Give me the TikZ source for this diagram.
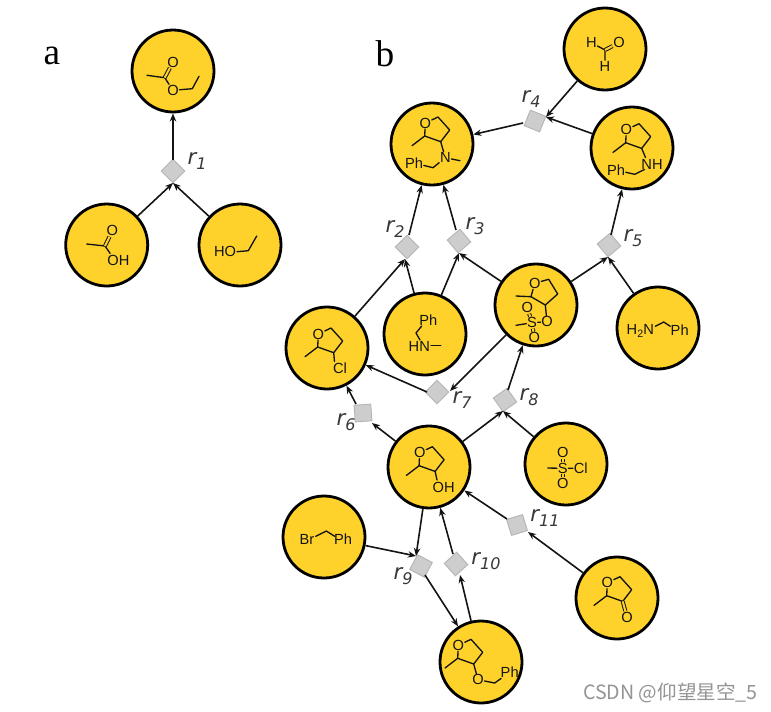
\documentclass[tikz,border=0pt]{standalone}
\usepackage{fontspec}
\setmainfont{Liberation Sans}
\newfontfamily\serifl{Liberation Serif}
\newfontfamily\lblfont{DejaVu Sans}
\newfontfamily\cjkf{Noto Sans CJK SC}
\usetikzlibrary{arrows.meta}
\definecolor{molfill}{HTML}{FFD22B}
\definecolor{inkc}{HTML}{141414}
\definecolor{rxfill}{HTML}{CDCDCD}
\definecolor{rxline}{HTML}{B5B5B5}
\tikzset{
  mol/.style={circle,draw=black,fill=molfill,line width=2.1pt,minimum size=61.5pt,inner sep=0pt},
  rx/.style={rectangle,draw=rxline,fill=rxfill,line width=.7pt,minimum size=12.5pt,inner sep=0pt},
  linkarrow/.style={draw=inkc,line width=1.2pt,-{Stealth[length=6pt,width=4.8pt]}},
  bond/.style={draw=inkc,line width=1pt,line cap=round,line join=round},
  dbl/.style={draw=inkc,line width=.75pt,double=molfill,double distance=1.5pt},
  atom/.style={font=\fontsize{11}{11}\selectfont,text=inkc,inner sep=.4pt},
  rlab/.style={font=\lblfont\fontsize{16}{16}\selectfont\itshape,text=black!78,inner sep=0pt},
  panel/.style={font=\serifl\fontsize{28}{28}\selectfont,text=black,inner sep=0pt},
  wmark/.style={font=\cjkf\fontsize{14.7}{14.7}\selectfont,text=black!42,inner sep=0pt,anchor=west}
}
\newcommand{\rlabel}[1]{r{\fontsize{12}{12}\selectfont\raisebox{-3.5pt}{#1}}}
% tetrahydrofuran ring with a methyl, given by the position of its O
\newcommand{\thfring}[3]{%
  \begin{scope}[shift={(#2,#3)}]
    \node[atom] (#1O) at (0,0) {O};
    \draw[bond] (#1O) -- (12.7,-6) -- (24.4,7) -- (15.4,18.7) -- (-0.6,13) -- (#1O);
    \draw[bond] (-0.6,13) -- (-13.3,22.7);
  \end{scope}}
\begin{document}
\begin{tikzpicture}[x=0.75pt,y=-0.75pt]
\path[use as bounding box,fill=white] (0,0) rectangle (771,711);

% molecule nodes
\node[mol] (ester) at (173,71) {};
\node[mol] (acid) at (106.7,245) {};
\node[mol] (etoh) at (240,245) {};
\node[mol] (form) at (605,49) {};
\node[mol] (pone) at (432,144) {};
\node[mol] (ptwo) at (632,148) {};
\node[mol] (chl) at (327,348) {};
\node[mol] (hn) at (425,334) {};
\node[mol] (mes) at (536,305) {};
\node[mol] (amine) at (658,328) {};
\node[mol] (alc) at (429,467) {};
\node[mol] (mscl) at (566,464) {};
\node[mol] (bnbr) at (324,537) {};
\node[mol] (ket) at (617,598) {};
\node[mol] (obn) at (481,662) {};

% reaction nodes
\node[rx,rotate=45] (r1) at (173,171) {};
\node[rx,rotate=45] (r2) at (407,247) {};
\node[rx,rotate=40] (r3) at (459,241) {};
\node[rx,rotate=-22] (r4) at (535,121) {};
\node[rx,rotate=40] (r5) at (609,245) {};
\node[rx,rotate=4] (r6) at (363,413) {};
\node[rx,rotate=45] (r7) at (437,392) {};
\node[rx,rotate=35] (r8) at (505,400) {};
\node[rx,rotate=-28] (r9) at (421,566) {};
\node[rx,rotate=42] (r10) at (456,564) {};
\node[rx,rotate=17] (r11) at (517,525) {};

% ports
\coordinate (i1) at (173,183); \coordinate (o1) at (173,160);
\coordinate (i2) at (405,259); \coordinate (o2) at (409,235);
\coordinate (i3) at (459,253); \coordinate (o3) at (456,230);
\coordinate (i4) at (546,117); \coordinate (o4) at (523,123);
\coordinate (i5) at (608,257); \coordinate (o5) at (611,235);
\coordinate (i6) at (372,423); \coordinate (o6) at (356,404);
\coordinate (i7) at (450,391); \coordinate (o7) at (427,392);
\coordinate (i8) at (503,411); \coordinate (o8) at (508,390);
\coordinate (i9) at (416,556); \coordinate (o9) at (425,575);
\coordinate (i10) at (460,575); \coordinate (o10) at (453,554);
\coordinate (i11) at (528,532); \coordinate (o11) at (507,519);

% connectors
\draw[linkarrow] (acid) -- (i1);
\draw[linkarrow] (etoh) -- (i1);
\draw[linkarrow] (o1) -- (ester);
\draw[linkarrow] (chl) -- (i2);
\draw[linkarrow] (hn) -- (i2);
\draw[linkarrow] (o2) -- (pone);
\draw[linkarrow] (hn) -- (i3);
\draw[linkarrow] (mes) -- (i3);
\draw[linkarrow] (o3) -- (pone);
\draw[linkarrow] (form) -- (i4);
\draw[linkarrow] (ptwo) -- (i4);
\draw[linkarrow] (o4) -- (pone);
\draw[linkarrow] (mes) -- (i5);
\draw[linkarrow] (amine) -- (i5);
\draw[linkarrow] (o5) -- (ptwo);
\draw[linkarrow] (alc) -- (i6);
\draw[linkarrow] (o6) -- (chl);
\draw[linkarrow] (mes) -- (i7);
\draw[linkarrow] (o7) -- (chl);
\draw[linkarrow] (alc) -- (i8);
\draw[linkarrow] (mscl) -- (i8);
\draw[linkarrow] (o8) -- (mes);
\draw[linkarrow] (alc) -- (i9);
\draw[linkarrow] (bnbr) -- (i9);
\draw[linkarrow] (o9) -- (obn);
\draw[linkarrow] (obn) -- (i10);
\draw[linkarrow] (o10) -- (alc);
\draw[linkarrow] (ket) -- (i11);
\draw[linkarrow] (o11) -- (alc);

% ethyl acetate
\begin{scope}[shift={(ester)}]
  \node[atom] (a1) at (0,-9) {O};
  \node[atom] (a2) at (0,19.3) {O};
  \draw[bond] (-26,4.3) -- (-8.3,6.7) -- (a2);
  \draw[dbl] (-8.3,6.7) -- (a1);
  \draw[bond] (a2) -- (19.3,17.7) -- (26,5.3);
\end{scope}
% acetic acid
\begin{scope}[shift={(acid)}]
  \node[atom] (a3) at (5.7,-14.3) {O};
  \node[atom] (a4) at (11.7,15) {OH};
  \draw[bond] (-20,-1) -- (-1.7,1) -- (3.5,8.5);
  \draw[dbl] (-1.7,1) -- (a3);
\end{scope}
% ethanol
\begin{scope}[shift={(etoh)}]
  \node[atom] (a5) at (-15,6.7) {HO};
  \draw[bond] (-3,6.7) -- (8.3,5.7) -- (16.7,-9);
\end{scope}
% formaldehyde
\begin{scope}[shift={(form)}]
  \node[atom] (a6) at (-13.7,-6.3) {H};
  \node[atom] (a7) at (14,-6.3) {O};
  \node[atom] (a8) at (0,17) {H};
  \draw[bond] (a6) -- (0,1) -- (a8);
  \draw[dbl] (0,1) -- (a7);
\end{scope}
% tertiary amine product
\begin{scope}[shift={(pone)}]
  \thfring{b}{-6.7}{-21}
  \node[atom] (a9) at (13.3,13.7) {N};
  \node[atom] (a10) at (-18,19) {Ph};
  \draw[bond] (8.7,-2.3) -- (a9) -- (28,16.7);
  \draw[bond] (a9) -- (1,23.7) -- (a10);
\end{scope}
% secondary amine
\begin{scope}[shift={(ptwo)}]
  \thfring{c}{-5.7}{-18.3}
  \node[atom] (a11) at (20,16.5) {NH};
  \node[atom] (a12) at (-16,22) {Ph};
  \draw[bond] (9.7,0.4) -- (13.5,9.5);
  \draw[bond] (12.5,21.5) -- (2.7,26.3) -- (a12);
\end{scope}
% chloride
\begin{scope}[shift={(chl)}]
  \thfring{d}{-8.7}{-14}
  \node[atom] (a13) at (13,20.7) {Cl};
  \draw[bond] (6.7,4.7) -- (7.5,13.5);
\end{scope}
% N-methylbenzylamine
\begin{scope}[shift={(hn)}]
  \node[atom] (a14) at (3.3,-14.3) {Ph};
  \node[atom] (a15) at (-5.7,12.3) {HN};
  \draw[bond] (-3.3,-8) -- (-9,-1) -- (-5,6);
  \draw[bond] (6,11.3) -- (15.7,11.3);
\end{scope}
% mesylate
\begin{scope}[shift={(mes)}]
  \node[atom] (a16) at (-1.3,-21.7) {O};
  \node[atom] (a17) at (11,16.7) {O};
  \node[atom] (a18) at (-4,17.7) {S};
  \node[atom] (a19) at (-8.7,2.7) {O};
  \node[atom] (a20) at (-1.7,32.7) {O};
  \draw[bond] (a16) -- (12.7,-25.7) -- (21.7,-11) -- (9.3,0) -- (-5,-8.3) -- (a16);
  \draw[bond] (-5,-8.3) -- (-20,-9);
  \draw[bond] (9.3,0) -- (a17);
  \draw[bond] (a18) -- (a17);
  \draw[dbl] (a18) -- (a19);
  \draw[dbl] (a18) -- (a20);
  \draw[bond] (-20,20.3) -- (a18);
\end{scope}
% benzylamine
\begin{scope}[shift={(amine)}]
  \node[atom] (a21) at (-17.7,3) {H\raisebox{-2pt}{\fontsize{8}{8}\selectfont 2}N};
  \node[atom] (a22) at (21.7,2.3) {Ph};
  \draw[bond] (-2.7,-1.7) -- (5.7,-6) -- (12.3,-1.7);
\end{scope}
% alcohol
\begin{scope}[shift={(alc)}]
  \thfring{e}{-9.3}{-14.3}
  \node[atom] (a23) at (14.7,20.7) {OH};
  \draw[bond] (6.1,4.4) -- (8,13);
\end{scope}
% mesyl chloride
\begin{scope}[shift={(mscl)}]
  \node[atom] (a24) at (-3.3,4.3) {S};
  \node[atom] (a25) at (14.7,4.3) {Cl};
  \node[atom] (a26) at (-3.3,-11.3) {O};
  \node[atom] (a27) at (-3.3,19.3) {O};
  \draw[bond] (-18.3,4) -- (a24) -- (a25);
  \draw[dbl] (a24) -- (a26);
  \draw[dbl] (a24) -- (a27);
\end{scope}
% benzyl bromide
\begin{scope}[shift={(bnbr)}]
  \node[atom] (a28) at (-17,2.3) {Br};
  \node[atom] (a29) at (19,2.3) {Ph};
  \draw[bond] (-8.3,-0.7) -- (2.3,-6) -- (10.7,-0.7);
\end{scope}
% ketone
\begin{scope}[shift={(ket)}]
  \thfring{f}{-9.7}{-15.3}
  \node[atom] (a30) at (10,19) {O};
  \draw[dbl] (5.7,3.4) -- (a30);
\end{scope}
% benzyl ether
\begin{scope}[shift={(obn)}]
  \thfring{g}{-22.7}{-16.7}
  \node[atom] (a31) at (-3,17.7) {O};
  \node[atom] (a32) at (28.7,10.3) {Ph};
  \draw[bond] (-7.3,2) -- (a31) -- (13.7,21) -- (a32);
\end{scope}

% reaction labels
\node[rlab] (l1) at (197,161) {\rlabel{1}};
\node[rlab] (l2) at (395,229) {\rlabel{2}};
\node[rlab] (l3) at (475,226) {\rlabel{3}};
\node[rlab] (l4) at (531,99) {\rlabel{4}};
\node[rlab] (l5) at (633,238) {\rlabel{5}};
\node[rlab] (l6) at (346,422) {\rlabel{6}};
\node[rlab] (l7) at (462,400) {\rlabel{7}};
\node[rlab] (l8) at (529,397) {\rlabel{8}};
\node[rlab] (l9) at (403,576) {\rlabel{9}};
\node[rlab] (l10) at (486,561) {\rlabel{10}};
\node[rlab] (l11) at (545,518) {\rlabel{11}};

% panel letters
\node[panel] (pa) at (52,56) {a};
\node[panel] (pb) at (385,54) {b};

% watermark
\node[wmark] (wm) at (583,693) {CSDN @仰望星空\_5};
\end{tikzpicture}
\end{document}
